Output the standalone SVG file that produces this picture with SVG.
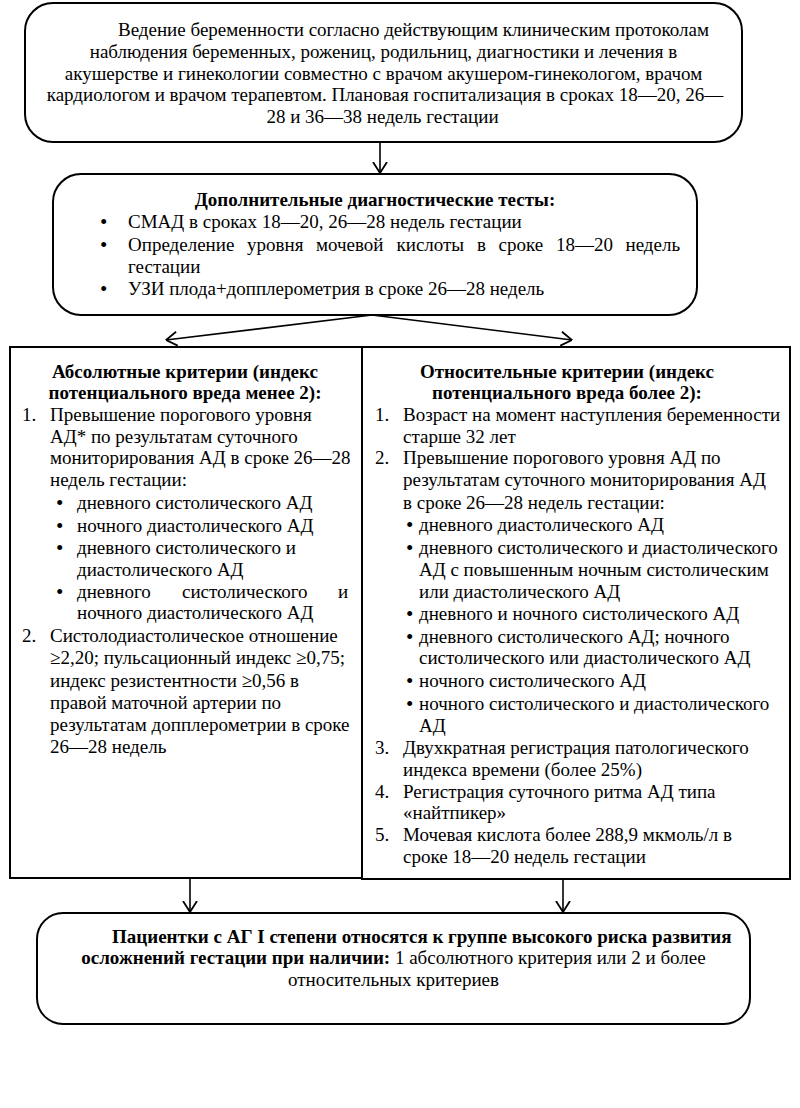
<svg xmlns="http://www.w3.org/2000/svg" width="800" height="1108" viewBox="0 0 800 1108">
<style>
.t{font-family:"Liberation Serif","Times New Roman",serif;font-size:19px;fill:#000}
.b{font-weight:bold}
.c{text-anchor:middle}
.d{font-size:21px}
.box{fill:#fff;stroke:#000;stroke-width:2}
.ln{stroke:#000;stroke-width:1.6;fill:none;marker-end:url(#ah)}
</style>
<defs>
<marker id="ah" viewBox="0 0 12 16" refX="11.5" refY="8" markerWidth="12" markerHeight="16" markerUnits="userSpaceOnUse" orient="auto">
<path d="M0.5,1 L11.5,8 L0.5,15" fill="none" stroke="#000" stroke-width="1.8"/>
</marker>
</defs>
<rect width="800" height="1108" fill="#fff"/>

<g id="n1">
<rect class="box" x="25" y="3" width="717" height="139" rx="28"/>
<text class="t" x="118" y="36">Ведение беременности согласно действующим клиническим протоколам</text>
<text class="t c" x="383.5" y="58">наблюдения беременных, рожениц, родильниц, диагностики и лечения в</text>
<text class="t c" x="383.5" y="80">акушерстве и гинекологии совместно с врачом акушером-гинекологом, врачом</text>
<text class="t c" x="385" y="101">кардиологом и врачом терапевтом. Плановая госпитализация в сроках 18—20, 26—</text>
<text class="t c" x="382.5" y="123">28 и 36—38 недель гестации</text>
</g>

<g id="n2">
<rect class="box" x="53" y="174" width="644" height="141" rx="28"/>
<text class="t b c" x="375" y="206">Дополнительные диагностические тесты:</text>
<text class="t d" x="100" y="229">•</text>
<text class="t" x="128" y="228">СМАД в сроках 18—20, 26—28 недель гестации</text>
<text class="t d" x="100" y="252">•</text>
<text class="t" y="251"><tspan x="128">Определение</tspan><tspan x="247">уровня</tspan><tspan x="316">мочевой</tspan><tspan x="396.5">кислоты</tspan><tspan x="477">в</tspan><tspan x="498.5">сроке</tspan><tspan x="556">18—20</tspan><tspan x="625.5">недель</tspan></text>
<text class="t" x="128" y="273">гестации</text>
<text class="t d" x="100" y="296">•</text>
<text class="t" x="128" y="295">УЗИ плода+допплерометрия в сроке 26—28 недель</text>
</g>

<g id="n3">
<rect class="box" x="10" y="347" width="352" height="531"/>
<text class="t b c" x="185" y="378">Абсолютные критерии (индекс</text>
<text class="t b c" x="185" y="399">потенциального вреда менее 2):</text>
<text class="t" x="22" y="421">1.</text>
<text class="t" x="50" y="421">Превышение порогового уровня</text>
<text class="t" x="50" y="443">АД* по результатам суточного</text>
<text class="t" x="50" y="464">мониторирования АД в сроке 26—28</text>
<text class="t" x="50" y="486">недель гестации:</text>
<text class="t d" x="56" y="510">•</text>
<text class="t" x="77" y="509">дневного систолического АД</text>
<text class="t d" x="56" y="533">•</text>
<text class="t" x="77" y="532">ночного диастолического АД</text>
<text class="t d" x="56" y="555">•</text>
<text class="t" x="77" y="554">дневного систолического и</text>
<text class="t" x="77" y="576">диастолического АД</text>
<text class="t d" x="56" y="599">•</text>
<text class="t" y="598"><tspan x="77">дневного</tspan><tspan x="182">систолического</tspan><tspan x="338">и</tspan></text>
<text class="t" x="77" y="619">ночного диастолического АД</text>
<text class="t" x="22" y="642">2.</text>
<text class="t" x="50" y="642">Систолодиастолическое отношение</text>
<text class="t" x="50" y="664">≥2,20; пульсационный индекс ≥0,75;</text>
<text class="t" x="50" y="687">индекс резистентности ≥0,56 в</text>
<text class="t" x="50" y="709">правой маточной артерии по</text>
<text class="t" x="50" y="731">результатам допплерометрии в сроке</text>
<text class="t" x="50" y="753">26—28 недель</text>
</g>

<g id="n4">
<rect class="box" x="362" y="347" width="428" height="532" stroke-width="2.5"/>
<text class="t b c" x="567" y="378">Относительные критерии (индекс</text>
<text class="t b c" x="567" y="399">потенциального вреда более 2):</text>
<text class="t" x="375" y="421">1.</text>
<text class="t" x="403" y="421">Возраст на момент наступления беременности</text>
<text class="t" x="403" y="443">старше 32 лет</text>
<text class="t" x="375" y="464">2.</text>
<text class="t" x="403" y="464">Превышение порогового уровня АД по</text>
<text class="t" x="403" y="486">результатам суточного мониторирования АД</text>
<text class="t" x="403" y="509">в сроке 26—28 недель гестации:</text>
<text class="t d" x="406" y="532">•</text>
<text class="t" x="419" y="531">дневного диастолического АД</text>
<text class="t d" x="406" y="555">•</text>
<text class="t" x="419" y="554">дневного систолического и диастолического</text>
<text class="t" x="419" y="576">АД с повышенным ночным систолическим</text>
<text class="t" x="419" y="598">или диастолического АД</text>
<text class="t d" x="406" y="621">•</text>
<text class="t" x="419" y="620">дневного и ночного систолического АД</text>
<text class="t d" x="406" y="644">•</text>
<text class="t" x="419" y="643">дневного систолического АД; ночного</text>
<text class="t" x="419" y="664">систолического или диастолического АД</text>
<text class="t d" x="406" y="688">•</text>
<text class="t" x="419" y="687">ночного систолического АД</text>
<text class="t d" x="406" y="711">•</text>
<text class="t" x="419" y="710">ночного систолического и диастолического</text>
<text class="t" x="419" y="732">АД</text>
<text class="t" x="375" y="754">3.</text>
<text class="t" x="403" y="754">Двухкратная регистрация патологического</text>
<text class="t" x="403" y="776">индекса времени (более 25%)</text>
<text class="t" x="375" y="798">4.</text>
<text class="t" x="403" y="798">Регистрация суточного ритма АД типа</text>
<text class="t" x="403" y="819">«найтпикер»</text>
<text class="t" x="375" y="841">5.</text>
<text class="t" x="403" y="841">Мочевая кислота более 288,9 мкмоль/л в</text>
<text class="t" x="403" y="863">сроке 18—20 недель гестации</text>
</g>

<g id="n5">
<rect class="box" x="37" y="913" width="713" height="111" rx="26"/>
<text class="t b" x="112" y="943">Пациентки с АГ I степени относятся к группе высокого риска развития</text>
<text class="t c" x="393.5" y="964"><tspan class="b">осложнений гестации при наличии:</tspan> 1 абсолютного критерия или 2 и более</text>
<text class="t c" x="393.5" y="986">относительных критериев</text>
</g>

<g id="connectors">
<line class="ln" x1="380" y1="142" x2="380" y2="173"/>
<line class="ln" x1="372" y1="315" x2="166" y2="340"/>
<line class="ln" x1="372" y1="315" x2="572" y2="340"/>
<line class="ln" x1="190" y1="878" x2="190" y2="912"/>
<line class="ln" x1="563" y1="879" x2="563" y2="912"/>
</g>
</svg>
